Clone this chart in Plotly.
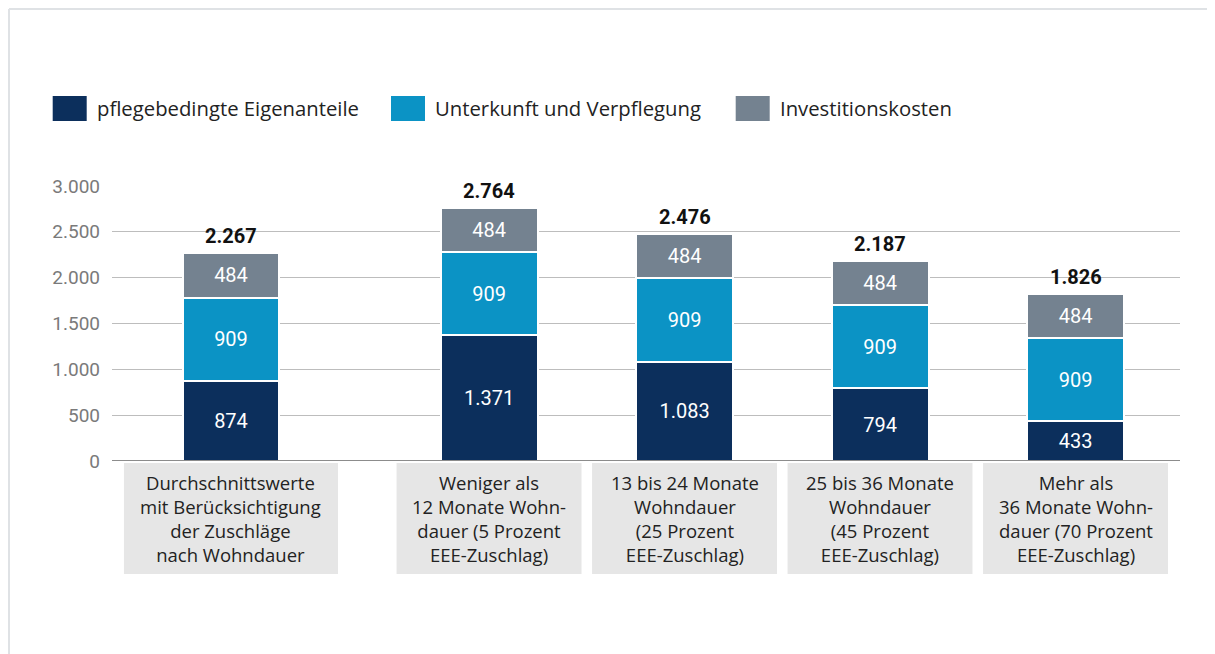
import plotly.graph_objects as go

# ---------------- data ----------------
categories = [
    "Durchschnittswerte<br>mit Berücksichtigung<br>der Zuschläge<br>nach Wohndauer",
    "Weniger als<br>12 Monate Wohn-<br>dauer (5 Prozent<br>EEE-Zuschlag)",
    "13 bis 24 Monate<br>Wohndauer<br>(25 Prozent<br>EEE-Zuschlag)",
    "25 bis 36 Monate<br>Wohndauer<br>(45 Prozent<br>EEE-Zuschlag)",
    "Mehr als<br>36 Monate Wohn-<br>dauer (70 Prozent<br>EEE-Zuschlag)",
]
series_names = ["pflegebedingte Eigenanteile", "Unterkunft und Verpflegung", "Investitionskosten"]
pflege = [874, 1371, 1083, 794, 433]
unterkunft = [909, 909, 909, 909, 909]
investition = [484, 484, 484, 484, 484]
y_ticks = [0, 500, 1000, 1500, 2000, 2500, 3000]

# ---------------- style / layout ----------------
COLORS = ["#0c2f5c", "#0b93c5", "#748290"]
NUM_FONT = "Roboto, sans-serif"
TXT_FONT = "'Open Sans', sans-serif"
OFF = 8                                    # page body margin
W, H = 1215, 654                           # page size
L, R, T, B = 112, 1180, 186, 461           # plot area in page pixels
PW, PH = R - L, B - T
GROUP_GAP = 0.32                           # extra gap after the first category
BAR_W = 0.496
BOX_W = [1.095, 0.946, 0.946, 0.946, 0.946]
UNIT = 195.5                               # pixels per category step
FIRST_CENTER, LAST_CENTER = 231, 1075.5


def px(x):
    return (x - L) / PW


def py(y):
    return (B - y) / PH


xpos = [i + (GROUP_GAP if i > 0 else 0) for i in range(len(categories))]
series = [pflege, unterkunft, investition]

fig = go.Figure()
for name, vals, col in zip(series_names, series, COLORS):
    fig.add_trace(go.Bar(
        x=xpos, y=vals, name=name, width=BAR_W,
        marker=dict(color=col, line=dict(color="white", width=2)),
        texttemplate="%{y:,d}", textposition="inside", insidetextanchor="middle",
        textangle=0, textfont=dict(color="white", size=20, family=NUM_FONT),
        showlegend=False, hoverinfo="skip",
    ))

annotations = []
shapes = []

# totals above bars
totals = [a + b + c for a, b, c in zip(pflege, unterkunft, investition)]
for x, t in zip(xpos, totals):
    annotations.append(dict(
        x=x, y=t, xref="x", yref="y", text="<b>" + f"{t:,}".replace(",", ".") + "</b>",
        showarrow=False, yanchor="middle", yshift=17,
        font=dict(size=20, color="#111111", family=NUM_FONT),
    ))

# category label boxes
for x, lab, bw in zip(xpos, categories, BOX_W):
    shapes.append(dict(type="rect", xref="x", yref="paper",
                       x0=x - bw / 2, x1=x + bw / 2, y0=py(574), y1=py(463),
                       fillcolor="#e6e6e6", line=dict(width=0), layer="below"))
    annotations.append(dict(
        x=x, y=py(518), xref="x", yref="paper", text=lab, showarrow=False,
        yanchor="middle", xanchor="center", align="center",
        font=dict(size=18.5, color="#222222", family=TXT_FONT),
    ))

# baseline
shapes.append(dict(type="line", xref="paper", yref="y", x0=0, x1=1, y0=0, y1=0,
                   line=dict(color="#8c8c8c", width=2)))

# custom legend
leg_x = [52.7, 391, 735.7]
for lx, name, col in zip(leg_x, series_names, COLORS):
    shapes.append(dict(type="rect", xref="paper", yref="paper",
                       x0=px(lx), x1=px(lx + 34), y0=py(121), y1=py(96),
                       fillcolor=col, line=dict(width=0)))
    annotations.append(dict(
        x=px(lx + 42), y=py(108), xref="paper", yref="paper", text=name,
        showarrow=False, xanchor="left", yanchor="middle",
        font=dict(size=20.3, color="#222222", family=TXT_FONT),
    ))

# frame (left & top border)
shapes.append(dict(type="line", xref="paper", yref="paper",
                   x0=px(9), x1=px(9), y0=py(670), y1=py(9),
                   line=dict(color="#dfe2e5", width=2)))
shapes.append(dict(type="line", xref="paper", yref="paper",
                   x0=px(9), x1=px(1230), y0=py(9), y1=py(9),
                   line=dict(color="#dfe2e5", width=2)))

fig.update_layout(
    width=W - OFF, height=H - OFF,
    margin=dict(l=L - OFF, r=W - R, t=T - OFF, b=H - B, pad=0),
    barmode="stack",
    separators=",.",
    plot_bgcolor="white", paper_bgcolor="white",
    font=dict(family=NUM_FONT),
    showlegend=False,
    xaxis=dict(range=[(L - FIRST_CENTER) / UNIT, xpos[-1] + (R - LAST_CENTER) / UNIT],
               showticklabels=False,
               showgrid=False, zeroline=False, showline=False, fixedrange=True),
    yaxis=dict(range=[0, 3000], tickvals=y_ticks, tickformat=",d",
               showgrid=True, gridcolor="#bdbdbd", gridwidth=1,
               zeroline=False, showline=False, ticks="",
               ticklabelstandoff=11,
               tickfont=dict(size=19, color="#7a7a7a", family=NUM_FONT)),
    annotations=annotations,
    shapes=shapes,
)

fig.write_html("out.html")
